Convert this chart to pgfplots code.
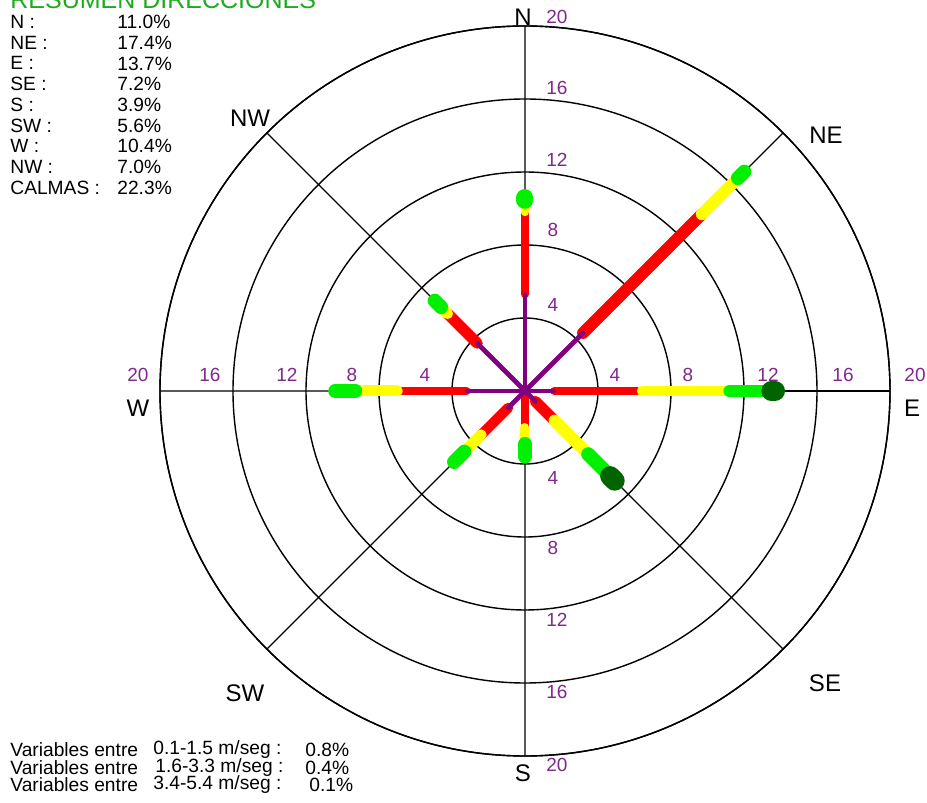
\documentclass[border=0pt]{standalone}
\usepackage{fontspec}
\setmainfont{Liberation Sans}
\usepackage{pgfplots}
\pgfplotsset{compat=1.18}
\usepgfplotslibrary{polar}
\usetikzlibrary{calc}
\definecolor{wpurple}{RGB}{128,0,128}
\definecolor{lblpurple}{RGB}{128,40,140}
\definecolor{wred}{RGB}{255,0,0}
\definecolor{wyellow}{RGB}{255,255,0}
\definecolor{wgreen}{RGB}{0,240,0}
\definecolor{wdkgreen}{RGB}{0,100,0}
\definecolor{titlegreen}{RGB}{30,170,30}

\begin{document}
\begin{tikzpicture}
\begin{polaraxis}[
  width=365pt, height=365pt, scale only axis,
  xmin=0, xmax=360, ymin=0, ymax=20,
  xtick={0,45,...,315}, ytick={4,8,12,16,20},
  xticklabels={}, yticklabels={},
  major tick length=0pt,
  grid=major,
  major grid style={black, line width=0.7pt},
  axis line style={black, line width=0.7pt},
  clip=false,
  seg/.style={no marks, line cap=round},
]
% N
\addplot[seg, wred, line width=4pt]      coordinates {(90,5.3) (90,9.8)};
\addplot[seg, wyellow, line width=4pt]   coordinates {(90,9.8) (90,10.2)};
\addplot[seg, wgreen, line width=8.5pt]  coordinates {(90,10.45) (90,10.6)};
% NE
\addplot[seg, wred, line width=6pt]      coordinates {(45,4.5) (45,13.7)};
\addplot[seg, wyellow, line width=6pt]   coordinates {(45,13.7) (45,16.5)};
\addplot[seg, wgreen, line width=7pt]    coordinates {(45,16.5) (45,17.0)};
% E
\addplot[seg, wred, line width=4pt]      coordinates {(0,1.6) (0,6.4)};
\addplot[seg, wyellow, line width=5pt]   coordinates {(0,6.4) (0,11.2)};
\addplot[seg, wgreen, line width=6pt]    coordinates {(0,11.2) (0,13.3)};
\addplot[seg, wdkgreen, line width=10pt] coordinates {(0,13.5) (0,13.7)};
% SE
\addplot[seg, wred, line width=5.5pt]    coordinates {(315,0.8) (315,2.3)};
\addplot[seg, wyellow, line width=6pt]   coordinates {(315,2.3) (315,4.9)};
\addplot[seg, wgreen, line width=7pt]    coordinates {(315,4.9) (315,6.3)};
\addplot[seg, wdkgreen, line width=10pt] coordinates {(315,6.6) (315,6.95)};
% S
\addplot[seg, wred, line width=4pt]      coordinates {(270,0) (270,2.0)};
\addplot[seg, wyellow, line width=4.5pt] coordinates {(270,2.0) (270,2.9)};
\addplot[seg, wgreen, line width=7pt]    coordinates {(270,2.9) (270,3.6)};
% SW
\addplot[seg, wred, line width=5pt]      coordinates {(225,1.3) (225,3.4)};
\addplot[seg, wyellow, line width=5.5pt] coordinates {(225,3.4) (225,4.7)};
\addplot[seg, wgreen, line width=7pt]    coordinates {(225,4.7) (225,5.5)};
% W
\addplot[seg, wred, line width=4pt]      coordinates {(180,3.2) (180,7.0)};
\addplot[seg, wyellow, line width=5.5pt] coordinates {(180,7.0) (180,9.3)};
\addplot[seg, wgreen, line width=7pt]    coordinates {(180,9.3) (180,10.4)};
% NW
\addplot[seg, wred, line width=5.5pt]    coordinates {(135,3.7) (135,6.0)};
\addplot[seg, wyellow, line width=5.5pt] coordinates {(135,6.0) (135,6.4)};
\addplot[seg, wgreen, line width=7pt]    coordinates {(135,6.5) (135,7.0)};
% purple inner parts
\addplot[seg, wpurple, line width=2pt]   coordinates {(90,0) (90,5.3)};
\addplot[seg, wpurple, line width=2.4pt] coordinates {(45,0) (45,4.5)};
\addplot[seg, wpurple, line width=1.8pt] coordinates {(0,0) (0,1.6)};
\addplot[seg, wpurple, line width=2.4pt] coordinates {(315,0) (315,0.8)};
\addplot[seg, wpurple, line width=2.4pt] coordinates {(225,0) (225,1.3)};
\addplot[seg, wpurple, line width=1.8pt] coordinates {(180,0) (180,3.2)};
\addplot[seg, wpurple, line width=2.4pt] coordinates {(135,0) (135,3.7)};
\coordinate (C) at (axis cs:0,0);
\end{polaraxis}

\begin{scope}[shift={($(C)+(-262.5pt,195.5pt)$)}, x=0.5pt, y=-0.5pt]
  % direction labels
  \begin{scope}[font=\fontsize{12pt}{14pt}\selectfont, inner sep=0pt]
    \node at (523,17) {N};
    \node at (826,135) {NE};
    \node at (912,408) {E};
    \node at (825,683) {SE};
    \node at (523,773) {S};
    \node at (245,693) {SW};
    \node at (138,408) {W};
    \node at (250,118) {NW};
  \end{scope}
  % ring labels
  \begin{scope}[font=\fontsize{9.5pt}{11pt}\selectfont, text=lblpurple, inner sep=0pt]
    \node at (557,17) {20}; \node at (557,88) {16}; \node at (557,160) {12};
    \node at (553,230) {8}; \node at (553,305) {4};
    \node at (553,478) {4}; \node at (553,548) {8}; \node at (557,620) {12};
    \node at (557,692) {16}; \node at (557,765) {20};
    \node at (615,375) {4}; \node at (688,375) {8}; \node at (768,375) {12};
    \node at (843,375) {16}; \node at (915,375) {20};
    \node at (425,375) {4}; \node at (352,375) {8}; \node at (287,375) {12};
    \node at (210,375) {16}; \node at (138,375) {20};
  \end{scope}
  % title, cut off by the page edge as in the original
  \node[anchor=base west, inner sep=0pt, text=titlegreen,
        font=\fontsize{12.5pt}{14pt}\selectfont] at (10,9) {RESUMEN DIRECCIONES};
  % summary
  \begin{scope}[font=\fontsize{9.6pt}{10pt}\selectfont, inner sep=0pt]
    \foreach \lab/\val [count=\i from 0] in {N/11.0, NE/17.4, E/13.7, SE/7.2, S/3.9,
        SW/5.6, W/10.4, NW/7.0, CALMAS/22.3} {
      \node[anchor=west] at (10,22+20.7*\i) {\lab\ :};
      \node[anchor=west] at (117,22+20.7*\i) {\val\%};
    }
    \node[anchor=west] at (10,750) {Variables entre};
    \node[anchor=west] at (153,750) {0.1-1.5 m/seg :};
    \node[anchor=west] at (305,750) {0.8\%};
    \node[anchor=west] at (10,767.5) {Variables entre};
    \node[anchor=west] at (155,767.5) {1.6-3.3 m/seg :};
    \node[anchor=west] at (305,767.5) {0.4\%};
    \node[anchor=west] at (10,785) {Variables entre};
    \node[anchor=west] at (153,785) {3.4-5.4 m/seg :};
    \node[anchor=west] at (309,785) {0.1\%};
  \end{scope}
  \pgfresetboundingbox
  \path[use as bounding box] (0,0) rectangle (927,803);
\end{scope}
\end{tikzpicture}
\end{document}
